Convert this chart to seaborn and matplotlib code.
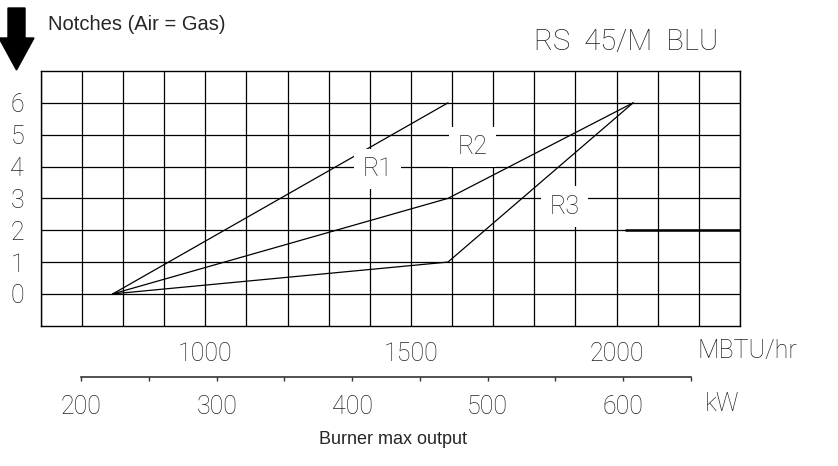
import matplotlib
matplotlib.use("Agg")
import matplotlib.pyplot as plt
from matplotlib.patches import FancyArrow
import seaborn as sns
import pandas as pd

# 곡선 데이터 (x: MBTU/hr, y: notch)
r1_x = [775, 1590]
r1_y = [0, 6]
r2_x = [775, 1590, 2040]
r2_y = [0, 3, 6]
r3_x = [775, 1590, 2040]
r3_y = [0, 1, 6]

# 오른쪽 y=2 수평선
limit_x = [2020, 2300]
limit_y = 2

mbtu_grid = list(range(600, 2301, 100))
mbtu_labels = [1000, 1500, 2000]
notch_ticks = [0, 1, 2, 3, 4, 5, 6]
kw_ticks = [200, 250, 300, 350, 400, 450, 500, 550, 600, 650]
kw_labels = [200, 300, 400, 500, 600]

curve_names = ["R1", "R2", "R3"]
curve_label_x = [1418, 1650, 1873]
curve_label_y = [3.92, 4.62, 2.74]

df = pd.concat([
    pd.DataFrame({"mbtu": r1_x, "notch": r1_y, "curve": "R1"}),
    pd.DataFrame({"mbtu": r2_x, "notch": r2_y, "curve": "R2"}),
    pd.DataFrame({"mbtu": r3_x, "notch": r3_y, "curve": "R3"}),
])

sns.set_style("white")
plt.rcParams["font.family"] = ["Roboto", "DejaVu Sans"]

cad_font = dict(family=["Roboto", "DejaVu Sans"], weight="light", color="#222222")
arial = ["Liberation Sans", "DejaVu Sans"]

fig = plt.figure(figsize=(8.38, 4.66), dpi=100)
ax = fig.add_axes([0.0486, 0.301, 0.8345, 0.5466])

sns.lineplot(data=df, x="mbtu", y="notch", hue="curve", units="curve",
             estimator=None, sort=False, palette=["black"] * 3,
             linewidth=0.9, legend=False, ax=ax)
ax.hlines(limit_y, limit_x[0], limit_x[1], color="black", linewidth=1.8, zorder=3)

ax.set_xlim(600, 2300)
ax.set_ylim(-1, 7)
ax.set_xticks(mbtu_grid)
ax.set_xticklabels([str(v) if v in mbtu_labels else "" for v in mbtu_grid])
ax.set_yticks(notch_ticks)
ax.set_yticklabels([str(v) for v in notch_ticks])
ax.grid(True, color="black", linewidth=0.9)
ax.set_axisbelow(True)
for s in ax.spines.values():
    s.set_color("black")
    s.set_linewidth(1.0)
ax.tick_params(length=0, labelsize=18, pad=12)
for lab in ax.get_xticklabels() + ax.get_yticklabels():
    lab.set_fontweight("light")
    lab.set_color("#222222")
ax.set_xlabel("")
ax.set_ylabel("")

for name, lx, ly in zip(curve_names, curve_label_x, curve_label_y):
    ax.text(lx, ly, name, ha="center", va="center", fontsize=18, zorder=5,
            bbox=dict(facecolor="white", edgecolor="none", pad=6), **cad_font)

# kW 보조 축
kax = fig.add_axes([0.0486, 0.191, 0.8345, 0.0001])
kax.set_xlim(170.0, 686.4)
kax.set_ylim(0, 1)
kax.patch.set_visible(False)
for side in ["top", "left", "right"]:
    kax.spines[side].set_visible(False)
kax.spines["bottom"].set_bounds(kw_ticks[0], kw_ticks[-1])
kax.spines["bottom"].set_color("#333333")
kax.spines["bottom"].set_linewidth(1.2)
kax.set_yticks([])
kax.set_xticks(kw_ticks)
kax.set_xticklabels([str(v) if v in kw_labels else "" for v in kw_ticks])
kax.tick_params(axis="x", bottom=True, direction="out", length=3, width=1,
                color="#333333", labelsize=18, pad=10)
for lab in kax.get_xticklabels():
    lab.set_fontweight("light")
    lab.set_color("#222222")

# 단위 라벨
fig.text(697 / 838, 1 - 351 / 466, "MBTU/hr", ha="left", va="center",
         fontsize=18, **cad_font)
fig.text(705 / 838, 1 - 404 / 466, "kW", ha="left", va="center",
         fontsize=18, **cad_font)

fig.text(626 / 838, 1 - 42 / 466, "RS  45/M  BLU", ha="center", va="center",
         fontsize=21, **cad_font)
fig.text(48 / 838, 1 - 25 / 466, "Notches (Air = Gas)", ha="left", va="center",
         fontsize=14.5, family=arial)
fig.text(393 / 838, 1 - 440 / 466, "Burner max output", ha="center", va="center",
         fontsize=13, family=arial)

arrow = FancyArrow(0.165, 4.58, 0, -0.62, width=0.17, head_width=0.35,
                   head_length=0.32, length_includes_head=True,
                   color="black", transform=fig.dpi_scale_trans)
fig.add_artist(arrow)

fig.savefig("out.png", dpi=100)
